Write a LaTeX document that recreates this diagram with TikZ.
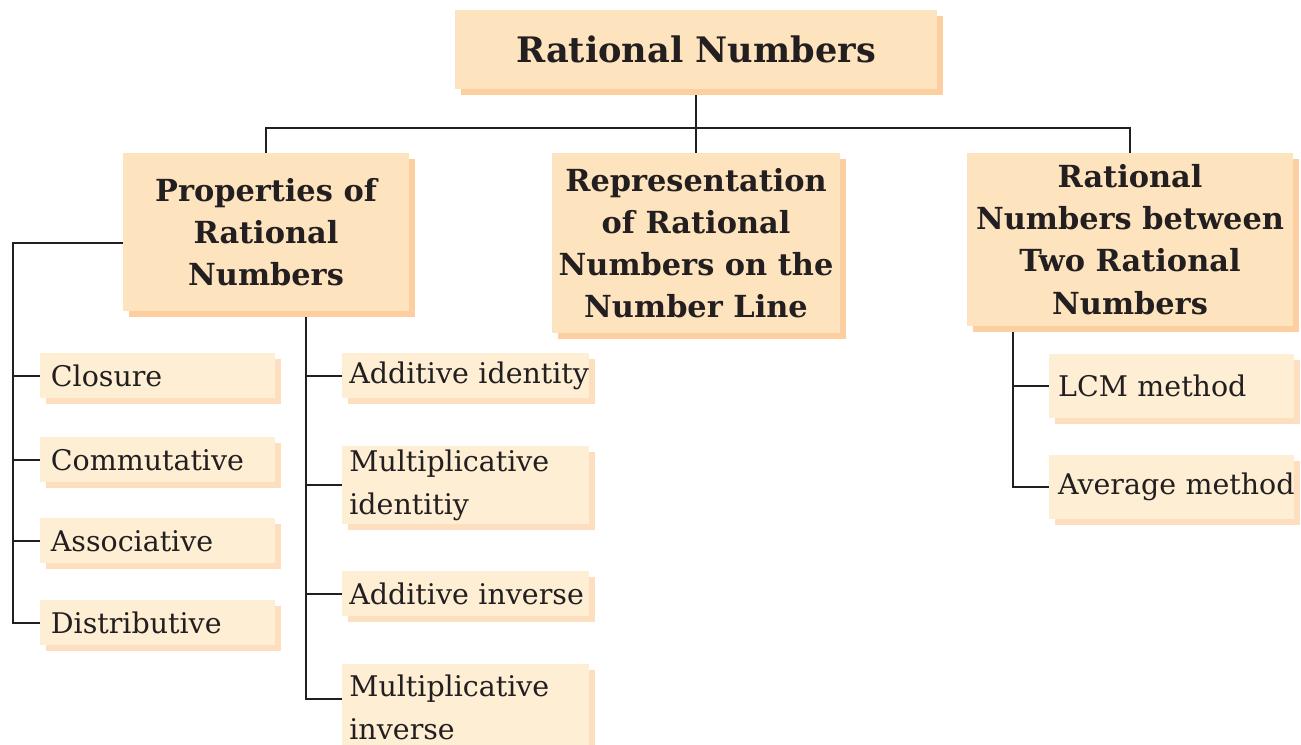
\documentclass[tikz,border=0pt]{standalone}
\usepackage{fontspec}
\setmainfont{DejaVu Serif}
\usetikzlibrary{backgrounds}
\definecolor{boxfill}{RGB}{253,227,190}
\definecolor{boxshade}{RGB}{252,206,160}
\definecolor{itemfill}{RGB}{254,239,212}
\definecolor{itemshade}{RGB}{253,222,190}
\definecolor{ink}{RGB}{35,31,32}
\tikzset{
  bigbox/.style={fill=boxfill,preaction={fill=boxshade,transform canvas={shift={(3.4pt,-3.4pt)}}},
    align=center,text=ink,inner sep=0pt,font=\bfseries\fontsize{17.3}{24}\selectfont},
  item/.style={anchor=north west,fill=itemfill,preaction={fill=itemshade,transform canvas={shift={(3.4pt,-3.4pt)}}},
    align=left,text=ink,inner ysep=0pt,font=\fontsize{16.2}{24}\selectfont},
  leftitem/.style={item,inner xsep=6pt,text width=4.28cm,minimum height=0.9cm},
  miditem/.style={item,inner xsep=4pt,text width=4.66cm},
  rightitem/.style={item,inner xsep=5pt,text width=4.55cm,minimum height=1.27cm},
  link/.style={draw=ink,line width=1.1pt}
}
\begin{document}
\begin{tikzpicture}[x=0.02cm,y=-0.02cm]
  \useasboundingbox (0,0) rectangle (1301,744);

  \node[bigbox,minimum width=9.64cm,minimum height=1.58cm,font=\bfseries\fontsize{20}{24}\selectfont]
    (title) at (696,49.5) {Rational Numbers};
  \node[bigbox,minimum width=5.72cm,minimum height=3.16cm] (props) at (266,232)
    {Properties of\\Rational\\Numbers};
  \node[bigbox,minimum width=5.76cm,minimum height=3.6cm] (repr) at (696,243)
    {Representation\\of Rational\\Numbers on the\\Number Line};
  \node[bigbox,minimum width=6.52cm,minimum height=3.46cm] (betw) at (1130,239.5)
    {Rational\\Numbers between\\Two Rational\\Numbers};

  \foreach \n/\y/\t in {clos/353/Closure,comm/437/Commutative,asso/518/Associative,dist/600/Distributive}
  \node[leftitem] (\n) at (40,\y) {\t};

  \node[miditem,minimum height=0.9cm] (addid) at (342,353) {\mbox{Additive identity}};
  \node[miditem,minimum height=1.56cm] (mulid) at (342,446) {Multiplicative\\identitiy};
  \node[miditem,minimum height=0.9cm] (addinv) at (342,571) {\mbox{Additive inverse}};
  \node[miditem,minimum height=1.72cm] (mulinv) at (342,664) {Multiplicative\\inverse};

  \node[rightitem] (lcm) at (1049,354) {\mbox{LCM method}};
  \node[rightitem] (avg) at (1049,455) {\mbox{Average method}};

  \begin{scope}[on background layer]
    \coordinate (bus) at (696,128);
    \draw[link] (title.south) -- (bus);
    \draw[link] (props.north) |- (bus) -| (betw.north);
    \draw[link] (bus) -- (repr.north);

    \coordinate (lsp) at (13,0);
    \draw[link] ([yshift=-6pt]props.west) -| (lsp |- dist.west) -- (dist.west);
    \foreach \n in {clos,comm,asso}
    \draw[link] (lsp |- \n.west) -- (\n.west);

    \coordinate (msp) at (306,0);
    \draw[link] (msp |- props.south) |- ([yshift=5pt]mulinv.west);
    \foreach \n in {addid,mulid,addinv}
    \draw[link] (msp |- \n.west) -- (\n.west);

    \coordinate (rsp) at (1013,0);
    \draw[link] (rsp |- betw.south) |- (avg.west);
    \draw[link] (rsp |- lcm.west) -- (lcm.west);
  \end{scope}
\end{tikzpicture}
\end{document}
